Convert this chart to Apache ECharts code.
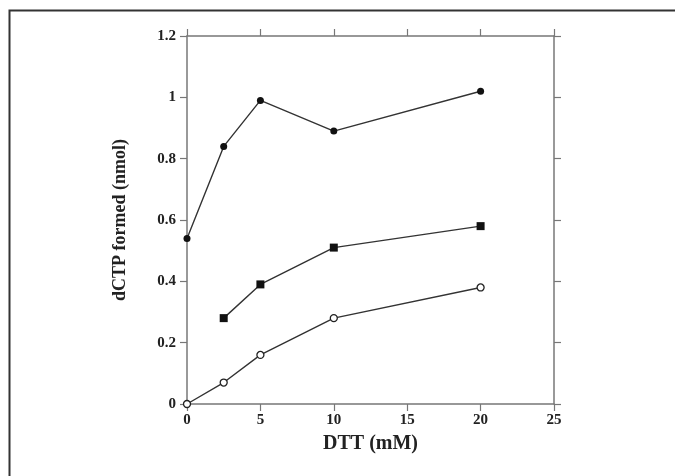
<!DOCTYPE html>
<html>
<head>
<meta charset="utf-8">
<script src="https://cdn.jsdelivr.net/npm/echarts@6/dist/echarts.min.js"></script>
<style>
  html, body { margin: 0; padding: 0; background: #fff; }
  #main { width: 675px; height: 476px; }
</style>
</head>
<body>
<div id="main"></div>
<script>
// DTT concentrations (mM) and dCTP formed (nmol)
const dttFilledCircle = [0, 2.5, 5, 10, 20];
const valFilledCircle = [0.54, 0.84, 0.99, 0.89, 1.02];
const dttSquare = [2.5, 5, 10, 20];
const valSquare = [0.28, 0.39, 0.51, 0.58];
const dttOpenCircle = [0, 2.5, 5, 10, 20];
const valOpenCircle = [0, 0.07, 0.16, 0.28, 0.38];

const xTitle = 'DTT (mM)';
const yTitle = 'dCTP formed (nmol)';

const axisColor = '#777';
const lineColor = '#333';
const font = 'Liberation Serif';

function pairs(xs, ys) {
  return xs.map((x, i) => [x, ys[i]]);
}

const chart = echarts.init(document.getElementById('main'));

const axisBase = {
  type: 'value',
  axisLine: { show: true, onZero: false, lineStyle: { color: axisColor, width: 1.5 } },
  axisTick: { show: true, inside: false, length: 7, lineStyle: { color: axisColor, width: 1.2 } },
  splitLine: { show: false }
};

chart.setOption({
  animation: false,
  backgroundColor: '#fff',
  graphic: [
    {
      type: 'rect',
      shape: { x: 9.5, y: 10.5, width: 700, height: 500 },
      style: { fill: null, stroke: '#333', lineWidth: 2 },
      silent: true
    }
  ],
  grid: { left: 187, right: 121, top: 36, bottom: 72 },
  xAxis: [
    Object.assign({}, axisBase, {
      position: 'bottom',
      min: 0, max: 25, interval: 5,
      name: xTitle,
      nameLocation: 'middle',
      nameGap: 30,
      nameTextStyle: { fontFamily: font, fontWeight: 'bold', fontSize: 20, color: '#222' },
      axisLabel: { fontFamily: font, fontWeight: 'bold', fontSize: 15, color: '#222', margin: 9 }
    }),
    Object.assign({}, axisBase, {
      position: 'top',
      min: 0, max: 25, interval: 5,
      axisLabel: { show: false }
    })
  ],
  yAxis: [
    Object.assign({}, axisBase, {
      position: 'left',
      min: 0, max: 1.2, interval: 0.2,
      name: yTitle,
      nameLocation: 'middle',
      nameGap: 58,
      nameTextStyle: { fontFamily: font, fontWeight: 'bold', fontSize: 18, color: '#222' },
      axisLabel: {
        fontFamily: font, fontWeight: 'bold', fontSize: 15, color: '#222', margin: 11,
        formatter: v => String(Math.round(v * 10) / 10)
      }
    }),
    Object.assign({}, axisBase, {
      position: 'right',
      min: 0, max: 1.2, interval: 0.2,
      axisLabel: { show: false }
    })
  ],
  series: [
    {
      type: 'line',
      data: pairs(dttFilledCircle, valFilledCircle),
      symbol: 'circle',
      symbolSize: 7,
      lineStyle: { color: lineColor, width: 1.4 },
      itemStyle: { color: '#111', borderColor: '#111', borderWidth: 0 }
    },
    {
      type: 'line',
      data: pairs(dttSquare, valSquare),
      symbol: 'rect',
      symbolSize: 8,
      lineStyle: { color: lineColor, width: 1.4 },
      itemStyle: { color: '#111', borderColor: '#111', borderWidth: 0 }
    },
    {
      type: 'line',
      data: pairs(dttOpenCircle, valOpenCircle),
      symbol: 'circle',
      symbolSize: 7,
      showAllSymbol: true,
      lineStyle: { color: lineColor, width: 1.4 },
      itemStyle: { color: '#fff', borderColor: '#222', borderWidth: 1.3 }
    }
  ]
});
</script>
</body>
</html>
